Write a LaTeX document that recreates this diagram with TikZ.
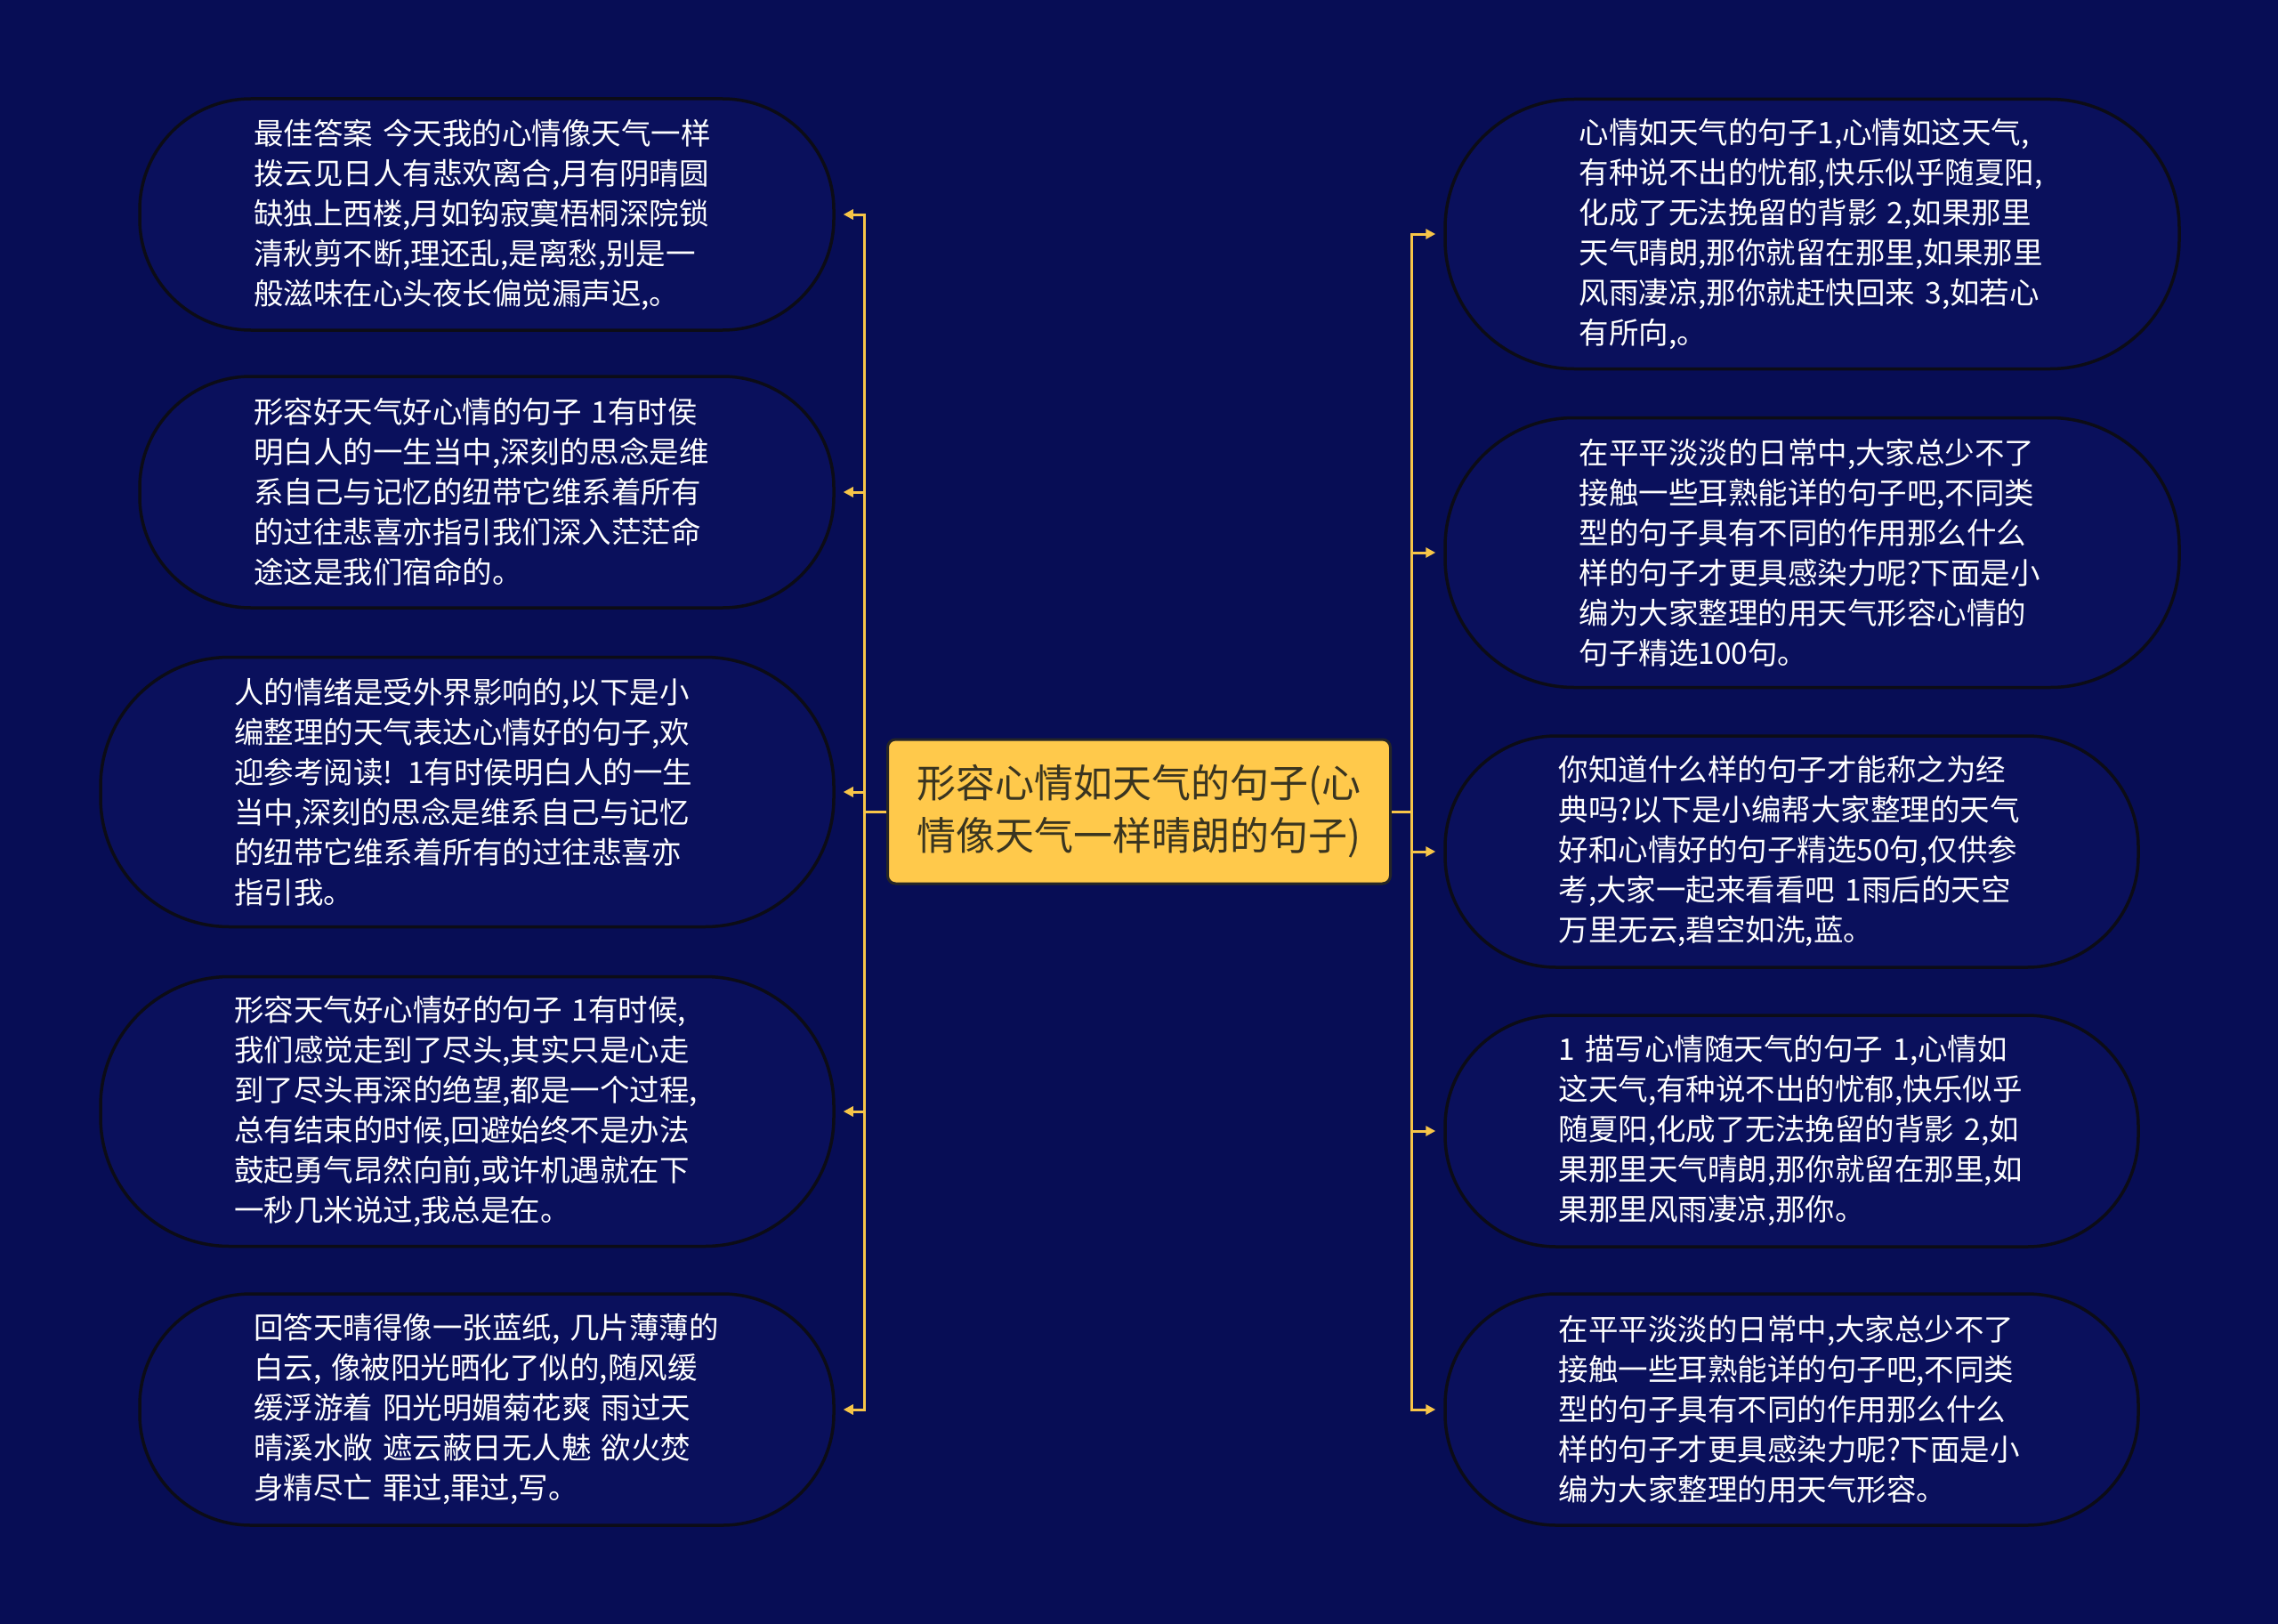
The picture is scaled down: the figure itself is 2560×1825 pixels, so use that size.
\documentclass[tikz,border=0pt]{standalone}
\usepackage{fontspec}
\newfontfamily\cjk{Noto Sans CJK SC}
\usetikzlibrary{arrows.meta}
\definecolor{bg}{HTML}{070D55}
\definecolor{leaffill}{HTML}{0A105C}
\definecolor{leafline}{HTML}{0C0C16}
\definecolor{conncol}{HTML}{F7C548}
\definecolor{rootfill}{HTML}{FFC94B}
\definecolor{roottext}{HTML}{3A3520}
\tikzset{
  leaf/.style={draw=leafline, line width=3.5pt, fill=leaffill, text=white,
    font=\cjk\fontsize{33.5}{45}\selectfont, align=left, text width=524pt, inner sep=0pt},
  five/.style={minimum height=260pt, rounded corners=125pt},
  six/.style={minimum height=303pt, rounded corners=145pt},
  wideL/.style={minimum width=780pt},
  wideLL/.style={minimum width=824pt},
  rootbox/.style={draw=black!85, line width=3pt, fill=rootfill, text=roottext,
    font=\cjk\fontsize{44}{59}\selectfont, align=left, inner sep=0pt,
    minimum width=565pt, minimum height=162pt, rounded corners=9pt},
  conn/.style={draw=conncol, line width=3pt, shorten >=9pt,
    -{Triangle[length=11pt,width=11pt]}}
}
\begin{document}
\begin{tikzpicture}[x=1pt,y=-1pt]
\useasboundingbox (0,0) rectangle (2560,1825);
\fill[bg] (0,0) rectangle (2560,1825);

\node[rootbox] (c) at (1280,912) {形容心情如天气的句子(心\\情像天气一样晴朗的句子)};

\node[leaf,five,wideL] (L1) at (547,241) {最佳答案 今天我的心情像天气一样\\拨云见日人有悲欢离合,月有阴晴圆\\缺独上西楼,月如钩寂寞梧桐深院锁\\清秋剪不断,理还乱,是离愁,别是一\\般滋味在心头夜长偏觉漏声迟,。};
\node[leaf,five,wideL] (L2) at (547,553) {形容好天气好心情的句子 1有时侯\\明白人的一生当中,深刻的思念是维\\系自己与记忆的纽带它维系着所有\\的过往悲喜亦指引我们深入茫茫命\\途这是我们宿命的。};
\node[leaf,six,wideLL] (L3) at (525,890) {人的情绪是受外界影响的,以下是小\\编整理的天气表达心情好的句子,欢\\迎参考阅读! 1有时侯明白人的一生\\当中,深刻的思念是维系自己与记忆\\的纽带它维系着所有的过往悲喜亦\\指引我。};
\node[leaf,six,wideLL] (L4) at (525,1249) {形容天气好心情好的句子 1有时候,\\我们感觉走到了尽头,其实只是心走\\到了尽头再深的绝望,都是一个过程,\\总有结束的时候,回避始终不是办法\\鼓起勇气昂然向前,或许机遇就在下\\一秒几米说过,我总是在。};
\node[leaf,five,wideL] (L5) at (547,1584) {回答天晴得像一张蓝纸, 几片薄薄的\\白云, 像被阳光晒化了似的,随风缓\\缓浮游着 阳光明媚菊花爽 雨过天\\晴溪水敞 遮云蔽日无人魅 欲火焚\\身精尽亡 罪过,罪过,写。};

\node[leaf,six,minimum width=825pt] (R1) at (2036.5,263) {心情如天气的句子1,心情如这天气,\\有种说不出的忧郁,快乐似乎随夏阳,\\化成了无法挽留的背影 2,如果那里\\天气晴朗,那你就留在那里,如果那里\\风雨凄凉,那你就赶快回来 3,如若心\\有所向,。};
\node[leaf,six,minimum width=825pt] (R2) at (2036.5,621) {在平平淡淡的日常中,大家总少不了\\接触一些耳熟能详的句子吧,不同类\\型的句子具有不同的作用那么什么\\样的句子才更具感染力呢?下面是小\\编为大家整理的用天气形容心情的\\句子精选100句。};
\node[leaf,five,minimum width=779pt] (R3) at (2013.5,957) {你知道什么样的句子才能称之为经\\典吗?以下是小编帮大家整理的天气\\好和心情好的句子精选50句,仅供参\\考,大家一起来看看吧 1雨后的天空\\万里无云,碧空如洗,蓝。};
\node[leaf,five,minimum width=779pt] (R4) at (2013.5,1271) {1 描写心情随天气的句子 1,心情如\\这天气,有种说不出的忧郁,快乐似乎\\随夏阳,化成了无法挽留的背影 2,如\\果那里天气晴朗,那你就留在那里,如\\果那里风雨凄凉,那你。};
\node[leaf,five,minimum width=779pt] (R5) at (2013.5,1584) {在平平淡淡的日常中,大家总少不了\\接触一些耳熟能详的句子吧,不同类\\型的句子具有不同的作用那么什么\\样的句子才更具感染力呢?下面是小\\编为大家整理的用天气形容。};

\foreach \n in {L1,L2,L3,L4,L5}
  \draw[conn] (c.west) -- ++(-24.5,0) |- (\n.east);
\foreach \n in {R1,R2,R3,R4,R5}
  \draw[conn] (c.east) -- ++(22.5,0) |- (\n.west);
\end{tikzpicture}
\end{document}
